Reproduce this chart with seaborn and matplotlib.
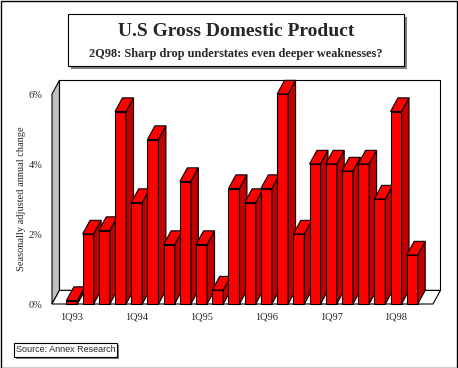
import matplotlib
matplotlib.use("Agg")
import matplotlib.pyplot as plt
from matplotlib.patches import Polygon, Rectangle
import seaborn as sns
import pandas as pd

# quarterly data, 1Q93 .. 2Q98
quarters = [f"{q}Q{y}" for y in ["93", "94", "95", "96", "97", "98"] for q in range(1, 5)][:22]
growth = [0.1, 2.0, 2.1, 5.5, 2.9, 4.7, 1.7, 3.5, 1.7, 0.4, 3.3,
          2.9, 3.3, 6.0, 2.0, 4.0, 4.0, 3.8, 4.0, 3.0, 5.5, 1.4]
y_ticks = [0, 2, 4, 6]
y_tick_labels = ["0%", "2%", "4%", "6%"]
x_tick_labels = ["1Q93", "1Q94", "1Q95", "1Q96", "1Q97", "1Q98"]

df = pd.DataFrame({"quarter": quarters, "growth": growth})

sns.set_style("white")
serif = ["Liberation Serif", "DejaVu Serif"]

W, H = 458, 368
fig = plt.figure(figsize=(W / 100, H / 100), dpi=100)
fig.patch.set_facecolor("white")

# front plotting frame in pixels
left, right, top, bottom = 52, 433, 94, 304
ax = fig.add_axes([left / W, 1 - bottom / H, (right - left) / W, (bottom - top) / H])

sns.barplot(data=df, x="quarter", y="growth", color="#ff0000", saturation=1,
            width=0.68, edgecolor="black", linewidth=0.8, ax=ax)

xmin, xmax = -1.23, 22.28
ymin, ymax = 0, 6
ax.set_xlim(xmin, xmax)
ax.set_ylim(ymin, ymax)

# depth offset of the 3D look (data units)
dx, dy = 0.46, 0.39

# walls and floor
ax.add_patch(Rectangle((xmin + dx, dy), xmax - xmin, ymax, facecolor="white",
                       edgecolor="black", linewidth=0.8, clip_on=False, zorder=0.5))
ax.add_patch(Polygon([(xmin, 0), (xmin + dx, dy), (xmin + dx, ymax + dy), (xmin, ymax)],
                     closed=True, facecolor="#c0c0c0", edgecolor="black",
                     linewidth=0.8, clip_on=False, zorder=0.6))
ax.add_patch(Polygon([(xmin, 0), (xmax, 0), (xmax + dx, dy), (xmin + dx, dy)],
                     closed=True, facecolor="white", edgecolor="black",
                     linewidth=0.8, clip_on=False, zorder=0.6))

# sides and tops of the bars
for i, p in enumerate(ax.patches[:len(growth)]):
    x0 = p.get_x()
    x1 = x0 + p.get_width()
    h = p.get_height()
    z = 2 + i * 0.01
    p.set_zorder(z)
    p.set_clip_on(False)
    side = Polygon([(x1, 0), (x1 + dx, dy), (x1 + dx, h + dy), (x1, h)], closed=True,
                   facecolor="#c00000", edgecolor="black", linewidth=0.8,
                   clip_on=False, zorder=z)
    cap = Polygon([(x0, h), (x1, h), (x1 + dx, h + dy), (x0 + dx, h + dy)], closed=True,
                  facecolor="#ff0000", edgecolor="black", linewidth=0.8,
                  clip_on=False, zorder=z)
    ax.add_patch(side)
    ax.add_patch(cap)

for s in ax.spines.values():
    s.set_visible(False)
ax.set_facecolor("none")

ax.set_yticks(y_ticks)
ax.set_yticklabels(y_tick_labels, fontsize=7.5, family=serif)
ax.set_xticks(range(0, len(quarters), 4))
ax.set_xticklabels(x_tick_labels, fontsize=7.5, family=serif)
ax.tick_params(axis="both", length=0)
ax.tick_params(axis="y", pad=7)
ax.tick_params(axis="x", pad=6)
ax.set_xlabel("")
ax.set_ylabel("Seasonally adjusted annual change", fontsize=7.5, family=serif, labelpad=1.5)

# title box with shadow
bx0, bx1, by0, by1 = 68, 404, 14, 66
fig.patches.append(Rectangle(((bx0 + 3) / W, 1 - (by1 + 3) / H), (bx1 - bx0) / W, (by1 - by0) / H,
                             transform=fig.transFigure, facecolor="#808080",
                             edgecolor="none", zorder=1))
fig.patches.append(Rectangle((bx0 / W, 1 - by1 / H), (bx1 - bx0) / W, (by1 - by0) / H,
                             transform=fig.transFigure, facecolor="white",
                             edgecolor="black", linewidth=0.8, zorder=2))
fig.text(236 / W, 1 - 32 / H, "U.S Gross Domestic Product", ha="center", va="center",
         fontsize=14, fontweight="bold", family=serif, zorder=3)
fig.text(236 / W, 1 - 54 / H, "2Q98: Sharp drop understates even deeper weaknesses?",
         ha="center", va="center", fontsize=8.8, fontweight="bold", family=serif, zorder=3)

# source box
sx0, sx1, sy0, sy1 = 14, 117, 343, 357
fig.patches.append(Rectangle(((sx0 + 2) / W, 1 - (sy1 + 2) / H), (sx1 - sx0) / W, (sy1 - sy0) / H,
                             transform=fig.transFigure, facecolor="#808080",
                             edgecolor="none", zorder=1))
fig.patches.append(Rectangle((sx0 / W, 1 - sy1 / H), (sx1 - sx0) / W, (sy1 - sy0) / H,
                             transform=fig.transFigure, facecolor="white",
                             edgecolor="black", linewidth=0.8, zorder=2))
fig.text((sx0 + 2) / W, 1 - 350 / H, "Source: Annex Research", ha="left", va="center",
         fontsize=6.5, family=["Liberation Sans", "DejaVu Sans"], zorder=3)

# outer frame
fig.patches.append(Rectangle((0.5 / W, 0.5 / H), (W - 1.5) / W, (H - 1.5) / H,
                             transform=fig.transFigure, facecolor="none",
                             edgecolor="black", linewidth=1.0, zorder=5))

fig.savefig("out.png", dpi=100)
